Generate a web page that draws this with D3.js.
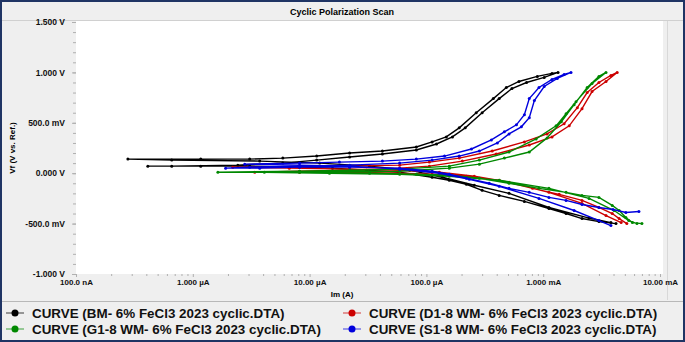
<!DOCTYPE html>
<html>
<head>
<meta charset="utf-8">
<script src="https://cdn.jsdelivr.net/npm/d3@7"></script>
<style>
  body { margin: 0; background: #fff; }
  text { font-family: Arial, "Liberation Sans", sans-serif; font-weight: bold; }
</style>
</head>
<body>
<div id="chart"></div>
<script>
// tick labels
var yTicks = [1.5, 1.0, 0.5, 0.0, -0.5, -1.0];
var yTickLabels = ["1.500 V", "1.000 V", "500.0 mV", "0.000 V", "-500.0 mV", "-1.000 V"];
var xTicks = [1e-7, 1e-6, 1e-5, 1e-4, 1e-3, 1e-2];
var xTickLabels = ["100.0 nA", "1.000 \u00b5A", "10.00 \u00b5A", "100.0 \u00b5A", "1.000 mA", "10.00 mA"];

// series names + colours
var seriesNames = ["CURVE (BM- 6% FeCl3 2023 cyclic.DTA)", "CURVE (D1-8 WM- 6% FeCl3 2023 cyclic.DTA)",
                   "CURVE (G1-8 WM- 6% FeCl3 2023 cyclic.DTA)", "CURVE (S1-8 WM- 6% FeCl3 2023 cyclic.DTA)"];
var seriesColors = ["#000000", "#cc0000", "#008800", "#0000dd"];

// BM : current (A) / potential (V)
var bmI = [4.2e-3, 3.0e-3, 2.15e-3, 1.57e-3, 1.12e-3, 6.9e-4, 4.2e-4, 3.0e-4, 2.2e-4, 1.57e-4, 1.12e-4, 5.9e-5, 3.07e-5, 1.57e-5, 8.2e-6, 3.07e-6, 1.17e-6, 4.12e-7,
           6.6e-7, 2.43e-6, 5.9e-6, 1.15e-5, 2.2e-5, 4.2e-5, 8.2e-5, 1.22e-4, 1.67e-4, 2.15e-4, 3.0e-4, 4.2e-4, 5.4e-4, 7.2e-4, 1.02e-3, 1.34e-3,
           1.19e-3, 8.9e-4, 6.2e-4, 4.83e-4, 3.74e-4, 2.67e-4, 1.91e-4, 1.48e-4, 1.12e-4, 8.2e-5, 4.2e-5, 2.2e-5, 1.15e-5, 5.9e-6, 3.07e-6, 1.17e-6, 2.78e-7,
           6.6e-7, 3.74e-6, 1.22e-5, 3.26e-5, 7.2e-5, 1.37e-4, 2.57e-4, 5.1e-4, 1.12e-3, 2.47e-3, 3.8e-3];
var bmV = [-0.50, -0.48, -0.45, -0.40, -0.35, -0.28, -0.22, -0.17, -0.11, -0.07, -0.04, 0.01, 0.03, 0.05, 0.06, 0.07, 0.07, 0.07,
           0.07, 0.08, 0.10, 0.13, 0.16, 0.19, 0.23, 0.29, 0.36, 0.45, 0.60, 0.74, 0.84, 0.90, 0.95, 1.00,
           0.99, 0.96, 0.91, 0.85, 0.74, 0.60, 0.45, 0.36, 0.31, 0.26, 0.22, 0.20, 0.17, 0.15, 0.14, 0.14, 0.14,
           0.13, 0.12, 0.10, 0.07, 0.03, -0.04, -0.12, -0.20, -0.34, -0.445, -0.49];

// D1-8 WM
var d1I = [5.2e-3, 4.47e-3, 3.9e-3, 3.0e-3, 2.15e-3, 1.37e-3, 8.1e-4, 4.2e-4, 2.2e-4, 1.12e-4, 5.9e-5, 2.2e-5, 8.2e-6, 3.39e-6,
           8.2e-6, 2.2e-5, 5.9e-5, 1.06e-4, 2.03e-4, 3.96e-4, 7.6e-4, 1.19e-3, 1.67e-3, 2.15e-3, 2.62e-3, 3.45e-3, 4.3e-3,
           3.8e-3, 3.0e-3, 2.38e-3, 1.96e-3, 1.51e-3, 1.08e-3, 6.9e-4, 3.66e-4, 1.91e-4, 1.06e-4, 5.9e-5, 2.2e-5, 6.7e-6, 2.2e-6,
           6.7e-6, 2.2e-5, 5.9e-5, 1.29e-4, 2.57e-4, 5.1e-4, 1.12e-3, 2.15e-3, 3.45e-3, 4.65e-3];
var d1V = [-0.50, -0.45, -0.40, -0.34, -0.27, -0.21, -0.15, -0.07, -0.03, -0.01, 0.00, 0.01, 0.01, 0.01,
           0.02, 0.03, 0.05, 0.07, 0.12, 0.19, 0.28, 0.36, 0.47, 0.64, 0.81, 0.91, 1.00,
           0.97, 0.90, 0.80, 0.65, 0.49, 0.39, 0.31, 0.22, 0.15, 0.11, 0.08, 0.07, 0.06, 0.06,
           0.05, 0.04, 0.03, 0.01, -0.03, -0.09, -0.19, -0.30, -0.42, -0.49];

// G1-8 WM
var g1I = [7.0e-3, 5.8e-3, 5.1e-3, 4.47e-3, 3.9e-3, 3.0e-3, 2.15e-3, 1.57e-3, 9.2e-4, 5.1e-4, 2.84e-4, 1.57e-4, 8.2e-5, 3.26e-5, 8.2e-6, 1.64e-6,
           8.2e-6, 2.2e-5, 5.9e-5, 1.57e-4, 2.84e-4, 5.1e-4, 8.7e-4, 1.29e-3, 1.57e-3, 1.91e-3, 2.62e-3, 3.45e-3,
           3.0e-3, 2.38e-3, 1.84e-3, 1.43e-3, 1.08e-3, 7.6e-4, 4.65e-4, 2.84e-4, 1.57e-4, 5.9e-5, 4.1e-6,
           1.48e-5, 5.9e-5, 1.57e-4, 4.2e-4, 1.12e-3, 2.47e-3, 4.05e-3, 5.4e-3, 6.35e-3];
var g1V = [-0.50, -0.49, -0.44, -0.37, -0.32, -0.24, -0.22, -0.19, -0.15, -0.10, -0.05, -0.02, -0.01, 0.00, 0.01, 0.01,
           0.02, 0.03, 0.04, 0.07, 0.13, 0.21, 0.34, 0.47, 0.59, 0.71, 0.89, 1.00,
           0.96, 0.85, 0.68, 0.51, 0.35, 0.21, 0.15, 0.09, 0.05, 0.02, 0.01,
           0.00, -0.01, -0.03, -0.07, -0.15, -0.25, -0.37, -0.47, -0.50];

// S1-8 WM
var s1I = [6.6e-3, 5.1e-3, 3.96e-3, 3.0e-3, 2.15e-3, 1.57e-3, 1.12e-3, 7.6e-4, 5.1e-4, 3.45e-4, 2.2e-4, 1.57e-4, 1.12e-4, 5.9e-5, 2.2e-5, 8.2e-6, 3.74e-6, 1.91e-6,
           3.07e-6, 8.2e-6, 2.2e-5, 5.9e-5, 1.12e-4, 1.91e-4, 2.84e-4, 4.05e-4, 5.1e-4, 6.5e-4, 7.6e-4, 8.4e-4, 1.02e-3, 1.32e-3, 1.73e-3,
           1.51e-3, 1.19e-3, 9.2e-4, 7.6e-4, 6.9e-4, 5.9e-4, 4.65e-4, 3.6e-4, 2.43e-4, 1.43e-4, 8.2e-5, 4.2e-5, 1.8e-5, 8.2e-6, 2.78e-6,
           8.2e-6, 2.2e-5, 5.9e-5, 1.29e-4, 2.33e-4, 4.2e-4, 9.2e-4, 1.84e-3, 3.0e-3, 3.8e-3];
var s1V = [-0.38, -0.39, -0.36, -0.34, -0.31, -0.27, -0.24, -0.19, -0.15, -0.10, -0.05, -0.01, 0.02, 0.05, 0.06, 0.06, 0.05, 0.05,
           0.06, 0.07, 0.08, 0.10, 0.13, 0.17, 0.22, 0.30, 0.39, 0.46, 0.55, 0.72, 0.86, 0.94, 1.00,
           0.98, 0.93, 0.85, 0.74, 0.58, 0.48, 0.41, 0.33, 0.24, 0.17, 0.14, 0.12, 0.11, 0.10, 0.09,
           0.08, 0.07, 0.04, 0.00, -0.06, -0.13, -0.25, -0.37, -0.47, -0.52];

var seriesI = [bmI, d1I, g1I, s1I];
var seriesV = [bmV, d1V, g1V, s1V];

var W = 685, H = 342;
var plot = {left: 76, right: 663, top: 21, bottom: 274};

var svg = d3.select("#chart")
  .append("svg")
    .attr("width", W)
    .attr("height", H);

// background + frame
svg.append("rect").attr("x", 0).attr("y", 0).attr("width", W).attr("height", H).attr("fill", "#efefef");
svg.append("line").attr("x1", 0).attr("x2", W).attr("y1", 20.5).attr("y2", 20.5).attr("stroke", "#d0d0d0");
svg.append("line").attr("x1", 0).attr("x2", W).attr("y1", 301.5).attr("y2", 301.5).attr("stroke", "#b8b8b8");
svg.append("rect").attr("x", plot.left).attr("y", plot.top)
   .attr("width", plot.right - plot.left).attr("height", plot.bottom - plot.top)
   .attr("fill", "#fff");
svg.append("line").attr("x1", 667.5).attr("x2", 667.5).attr("y1", 21).attr("y2", 300).attr("stroke", "#d8d8d8");
svg.append("rect").attr("x", 1).attr("y", 1).attr("width", W - 2).attr("height", H - 2)
   .attr("fill", "none").attr("stroke", "#1f3464").attr("stroke-width", 2);

// scales
var x = d3.scaleLog().domain([1e-7, 1e-2]).range([76, 660]);
var y = d3.scaleLinear().domain([-1, 1.5]).range([274, 22]);

// title
svg.append("text")
   .attr("x", 342).attr("y", 15)
   .attr("text-anchor", "middle")
   .style("font-size", "9px")
   .text("Cyclic Polarization Scan");

// Y axis
var yMinor = [];
for (var v = -1; v <= 1.5001; v += 0.1) yMinor.push(Math.round(v * 10) / 10);
svg.append("g")
  .attr("transform", "translate(" + plot.left + ",0)")
  .call(d3.axisLeft(y).tickValues(yMinor).tickSize(3).tickFormat(""))
  .call(function(g) { g.select(".domain").remove(); g.selectAll("line").attr("stroke", "#b0b0b0"); });
svg.append("g")
  .attr("transform", "translate(" + plot.left + ",0)")
  .call(d3.axisLeft(y).tickValues(yTicks).tickSize(4).tickPadding(7)
        .tickFormat(function(d, i) { return yTickLabels[i]; }))
  .call(function(g) {
    g.select(".domain").remove();
    g.selectAll("line").attr("stroke", "#b0b0b0");
    g.selectAll("text").style("font-size", "8.5px").style("font-weight", "bold").attr("fill", "#111");
  });

// X axis
var xMinor = [];
xTicks.slice(0, 5).forEach(function(t) { for (var k = 2; k <= 9; k++) xMinor.push(t * k); });
svg.append("g")
  .attr("transform", "translate(0," + plot.bottom + ")")
  .call(d3.axisBottom(x).tickValues(xMinor).tickSize(2).tickFormat(""))
  .call(function(g) { g.select(".domain").remove(); g.selectAll("line").attr("stroke", "#b0b0b0"); });
svg.append("g")
  .attr("transform", "translate(0," + plot.bottom + ")")
  .call(d3.axisBottom(x).tickValues(xTicks).tickSize(3).tickPadding(2)
        .tickFormat(function(d, i) { return xTickLabels[i]; }))
  .call(function(g) {
    g.select(".domain").remove();
    g.selectAll("line").attr("stroke", "#b0b0b0");
    g.selectAll("text").style("font-size", "8px").style("font-weight", "bold").attr("fill", "#111");
  });

// axis titles
svg.append("text")
   .attr("x", 342).attr("y", 297)
   .attr("text-anchor", "middle")
   .style("font-size", "8px")
   .text("Im (A)");
svg.append("text")
   .attr("transform", "translate(15,148) rotate(-90)")
   .attr("text-anchor", "middle")
   .style("font-size", "8px")
   .text("Vf (V vs. Ref.)");

// curves
svg.append("clipPath").attr("id", "clip")
  .append("rect").attr("x", plot.left).attr("y", plot.top)
  .attr("width", plot.right - plot.left).attr("height", plot.bottom - plot.top);

var curves = svg.append("g").attr("clip-path", "url(#clip)");
var line = d3.line()
  .x(function(d) { return x(d[0]); })
  .y(function(d) { return y(d[1]); });

seriesI.forEach(function(cur, s) {
  var pts = cur.map(function(c, i) { return [c, seriesV[s][i]]; });
  curves.append("path")
    .datum(pts)
    .attr("fill", "none")
    .attr("stroke", seriesColors[s])
    .attr("stroke-width", 1.4)
    .attr("d", line);
  curves.append("g")
    .selectAll("circle")
    .data(pts)
    .enter()
    .append("circle")
      .attr("cx", function(d) { return x(d[0]); })
      .attr("cy", function(d) { return y(d[1]); })
      .attr("r", 1.5)
      .attr("fill", seriesColors[s]);
});

// legend
var legendPos = [[15, 313], [352, 313], [15, 329], [352, 329]];
seriesNames.forEach(function(name, s) {
  var p = legendPos[s];
  svg.append("line")
    .attr("x1", p[0] - 9).attr("x2", p[0] + 9)
    .attr("y1", p[1]).attr("y2", p[1])
    .attr("stroke", seriesColors[s]).attr("stroke-opacity", 0.5).attr("stroke-width", 1.5);
  svg.append("circle")
    .attr("cx", p[0]).attr("cy", p[1]).attr("r", 3.5)
    .attr("fill", seriesColors[s]);
  svg.append("text")
    .attr("x", p[0] + 17).attr("y", p[1] + 4.5)
    .style("font-size", "13.4px")
    .attr("fill", "#111")
    .text(name);
});
</script>
</body>
</html>
